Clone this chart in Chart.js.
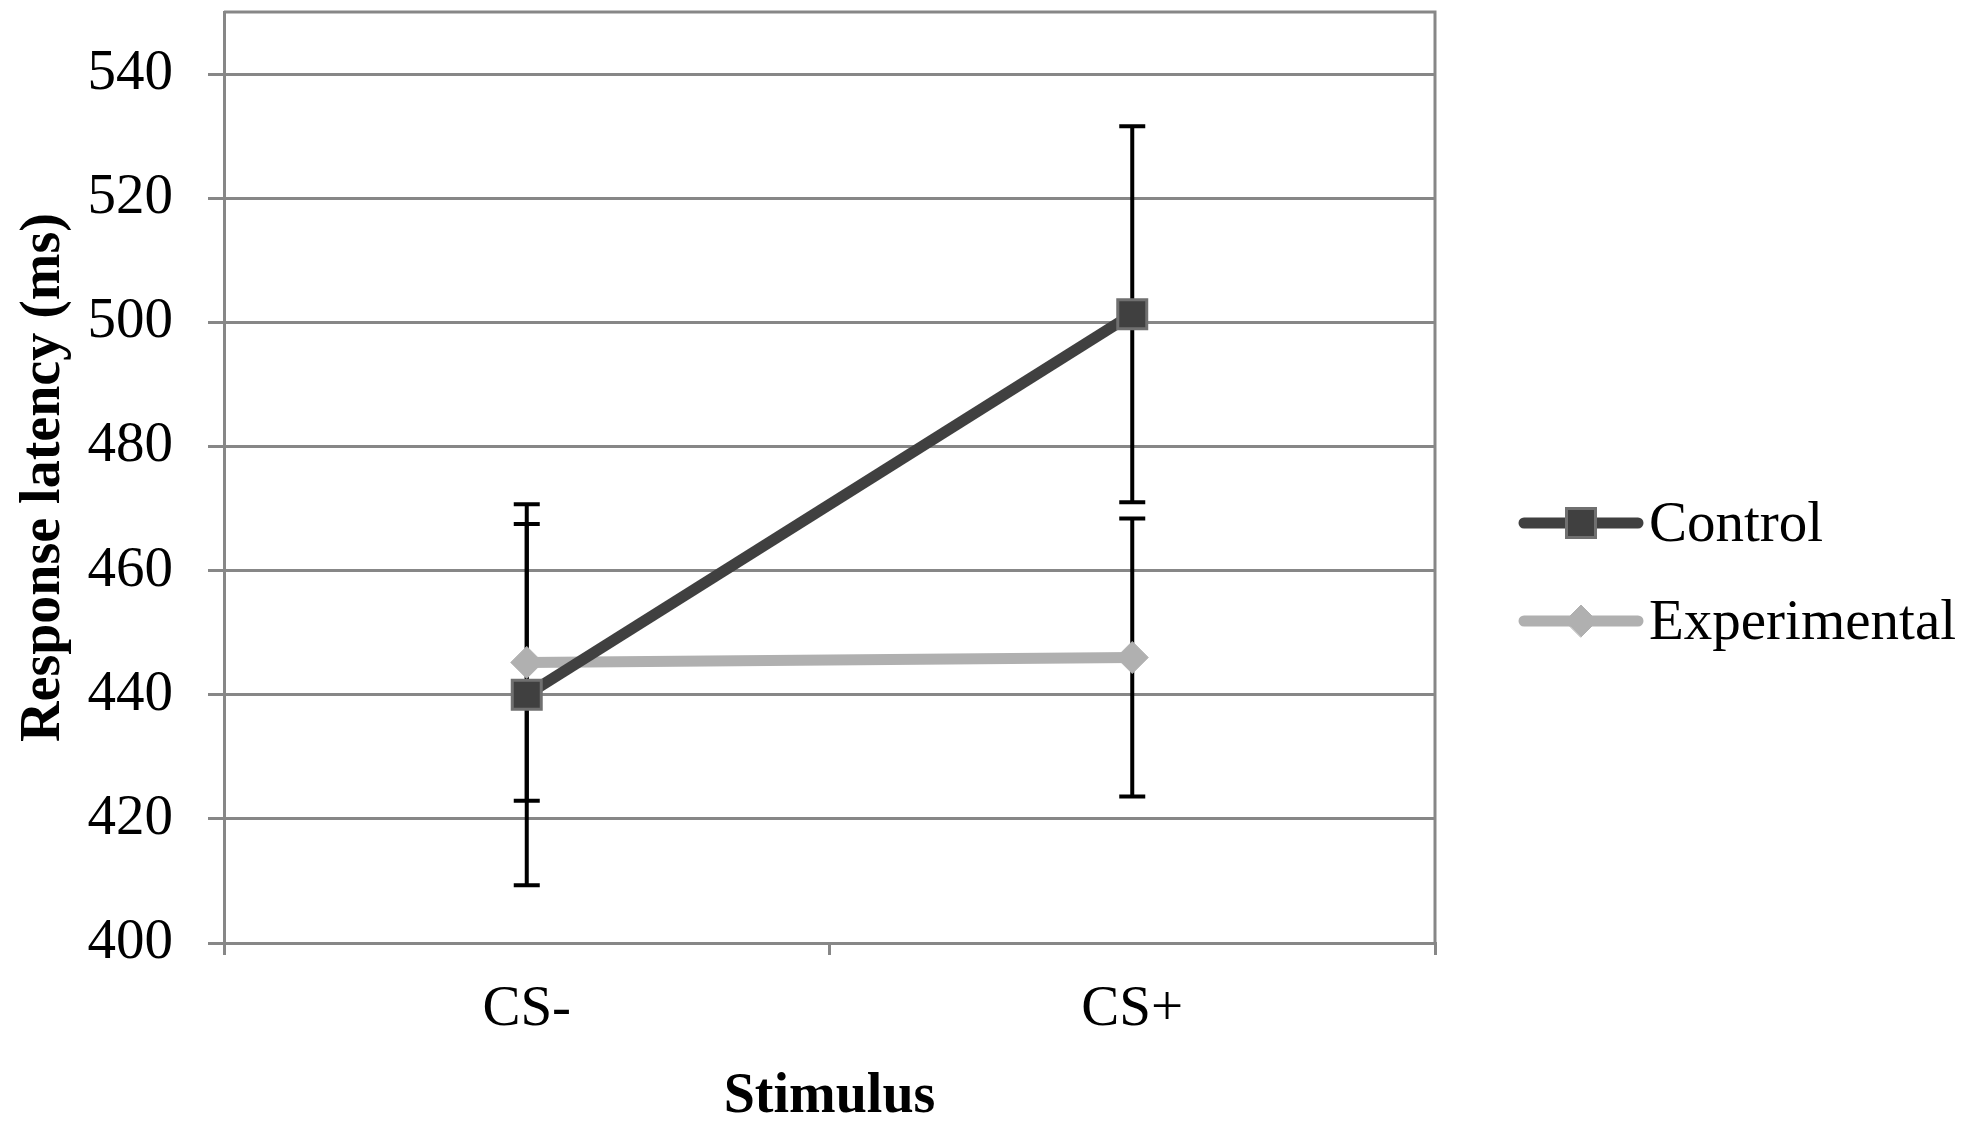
<!DOCTYPE html>
<html>
<head>
<meta charset="utf-8">
<script src="https://cdn.jsdelivr.net/npm/chart.js@4.4.1/dist/chart.umd.min.js"></script>
<style>
  html, body { margin: 0; padding: 0; background: #fff; }
  #wrap { width: 1984px; height: 1123px; }
</style>
</head>
<body>
<div id="wrap"><canvas id="latencyChart"></canvas></div>
<script>
// values
const stimuli = ['CS-', 'CS+'];
const seriesNames = ['Control', 'Experimental'];
const controlMeans = [440.0, 501.3];
const controlErr = [30.7, 30.3];
const experimentalMeans = [445.2, 446.0];
const experimentalErr = [22.3, 22.4];
const yTicks = [400, 420, 440, 460, 480, 500, 520, 540];
const yMin = 400;
const yMax = 550;

const GRID = '#878787';
const serif = "'Liberation Serif', 'Times New Roman', serif";

Chart.defaults.font.family = serif;
Chart.defaults.font.size = 57;
Chart.defaults.color = '#000';

// error bars under the lines
const errorBars = {
  id: 'errorBars',
  beforeDatasetsDraw(chart) {
    const ctx = chart.ctx;
    const y = chart.scales.y;
    ctx.save();
    ctx.strokeStyle = '#000';
    ctx.lineWidth = 4;
    chart.data.datasets.forEach((ds, i) => {
      chart.getDatasetMeta(i).data.forEach((pt, j) => {
        const hi = y.getPixelForValue(ds.data[j] + ds.errors[j]);
        const lo = y.getPixelForValue(ds.data[j] - ds.errors[j]);
        ctx.beginPath();
        ctx.moveTo(pt.x, hi); ctx.lineTo(pt.x, lo);
        ctx.moveTo(pt.x - 13, hi); ctx.lineTo(pt.x + 13, hi);
        ctx.moveTo(pt.x - 13, lo); ctx.lineTo(pt.x + 13, lo);
        ctx.stroke();
      });
    });
    ctx.restore();
  }
};

// top and right edges of the plot frame
const frame = {
  id: 'frame',
  beforeDatasetsDraw(chart) {
    const {ctx, chartArea: a} = chart;
    ctx.save();
    ctx.strokeStyle = GRID;
    ctx.lineWidth = 3;
    ctx.beginPath();
    ctx.moveTo(a.left, a.top); ctx.lineTo(a.right, a.top); ctx.lineTo(a.right, a.bottom);
    ctx.stroke();
    ctx.restore();
  }
};

// legend with line + marker samples, like the original
const lineLegend = {
  id: 'lineLegend',
  afterDraw(chart) {
    const ctx = chart.ctx;
    ctx.save();
    chart.data.datasets.forEach((ds, i) => {
      const y = 523 + i * 98;
      ctx.strokeStyle = ds.borderColor;
      ctx.lineWidth = ds.borderWidth;
      ctx.lineCap = 'round';
      ctx.beginPath();
      ctx.moveTo(1524, y); ctx.lineTo(1638, y);
      ctx.stroke();
      ctx.fillStyle = ds.pointBackgroundColor;
      ctx.strokeStyle = ds.pointBorderColor;
      ctx.lineWidth = ds.pointBorderWidth;
      Chart.helpers.drawPoint(ctx, {
        pointStyle: ds.pointStyle, rotation: 0,
        radius: ds.pointRadius, borderWidth: ds.pointBorderWidth
      }, 1581, y);
      ctx.fillStyle = '#000';
      ctx.font = '57px ' + serif;
      ctx.textBaseline = 'middle';
      ctx.textAlign = 'left';
      ctx.fillText(ds.label, 1649, y + 3);
    });
    ctx.restore();
  }
};

new Chart(document.getElementById('latencyChart'), {
  type: 'line',
  data: {
    labels: stimuli,
    datasets: [
      {
        label: seriesNames[0],
        data: controlMeans,
        errors: controlErr,
        borderColor: '#404040',
        borderWidth: 11,
        pointStyle: 'rect',
        pointRadius: 20.5,
        pointBackgroundColor: '#404040',
        pointBorderColor: '#707070',
        pointBorderWidth: 3
      },
      {
        label: seriesNames[1],
        data: experimentalMeans,
        errors: experimentalErr,
        borderColor: '#b0b0b0',
        borderWidth: 11,
        pointStyle: 'rectRot',
        pointRadius: 16,
        pointBackgroundColor: '#b0b0b0',
        pointBorderColor: '#b0b0b0',
        pointBorderWidth: 1
      }
    ]
  },
  options: {
    responsive: true,
    maintainAspectRatio: false,
    animation: false,
    events: [],
    layout: { autoPadding: false, padding: { left: 17, top: 12, right: 549, bottom: 0 } },
    plugins: {
      legend: { display: false },
      tooltip: { enabled: false }
    },
    scales: {
      x: {
        offset: true,
        afterFit: (scale) => { scale.height = 180; },
        grid: { display: true, drawOnChartArea: false, offset: true, tickLength: 12, color: GRID, lineWidth: 3 },
        border: { display: true, color: GRID, width: 3 },
        ticks: { padding: 21 },
        title: {
          display: true, text: 'Stimulus',
          font: { weight: 'bold', size: 56, lineHeight: 1 },
          padding: { top: 0, bottom: -3 }
        }
      },
      y: {
        min: yMin,
        max: yMax,
        afterBuildTicks: (scale) => { scale.ticks = yTicks.map(v => ({ value: v })); },
        afterFit: (scale) => { scale.paddingTop = 0; scale.paddingBottom = 0; scale.width = 207; },
        grid: { color: GRID, lineWidth: 3, tickLength: 16 },
        border: { display: true, color: GRID, width: 3 },
        ticks: { padding: 35 },
        title: {
          display: true, text: 'Response latency (ms)',
          font: { weight: 'bold', size: 56, lineHeight: 1 },
          padding: { top: 0, bottom: 0 }
        }
      }
    }
  },
  plugins: [errorBars, frame, lineLegend]
});
</script>
</body>
</html>
